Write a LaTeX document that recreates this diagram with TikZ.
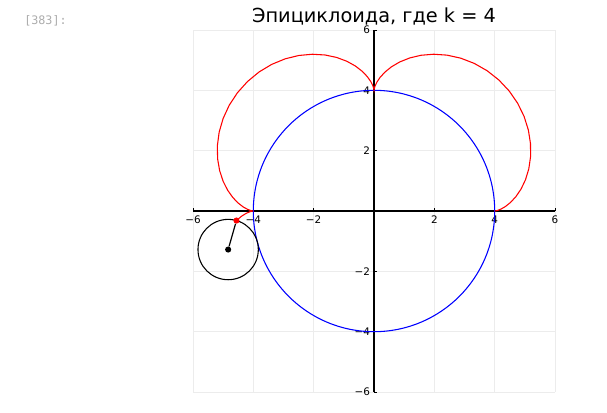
\documentclass[tikz,border=0pt]{standalone}
\usepackage{fontspec}
\setmainfont{DejaVu Sans}
\setmonofont{DejaVu Sans Mono}
\usetikzlibrary{positioning}

\begin{document}
\begin{tikzpicture}[
        x=0.75pt, y=0.75pt,
        grd/.style={draw=gray!15, line width=0.5pt},
        ax/.style={draw=black, line width=1pt},
        tck/.style={draw=black, line width=0.6pt},
        lbl/.style={font=\fontsize{7.8}{9}\selectfont, inner sep=1pt},
        dot/.style={circle, fill, inner sep=0pt, minimum size=4.6pt},
    ]
    \useasboundingbox (0,0) rectangle (607,412);
    \node[anchor=base west, text=gray!65, font=\ttfamily\fontsize{8.8}{10}\selectfont, inner sep=0pt] (cell) at (24,388) {[383]:};
    \node[anchor=base, font=\fontsize{14.5}{16}\selectfont, inner sep=0pt] (title) at (374,390) {Эпициклоида, где k = 4};
    \begin{scope}[shift={(374,201)}, x=22.63pt, y=22.63pt]
        % grid
        \foreach \v in {-6,-4,...,6} {
            \draw[grd] (\v,-6) -- (\v,6);
            \draw[grd] (-6,\v) -- (6,\v);
        }
        % axes
        \draw[ax] (-6,0) -- (6,0);
        \draw[ax] (0,-6) -- (0,6);
        \foreach \v in {-6,-4,-2,2,4,6} {
            \draw[tck] (\v,0) -- ++(0,0.11);
            \draw[tck] (0,\v) -- ++(0.11,0);
            \node[lbl, anchor=north] (xl\v) at (\v,-0.12) {\ifnum\v<0 −\the\numexpr-\v\relax\else\v\fi};
            \node[lbl, anchor=east] (yl\v) at (-0.08,\v) {\ifnum\v<0 −\the\numexpr-\v\relax\else\v\fi};
        }
        % curves
        \draw[blue, line width=0.8pt] (0,0) circle (4);
        \draw[red, line width=0.8pt] plot[domain=0:3.4, samples=69, variable=\t]
            ({5*cos(\t r)-cos(5*\t r)}, {5*sin(\t r)-sin(5*\t r)});
        \draw[black, line width=0.8pt] ({5*cos(3.4 r)}, {5*sin(3.4 r)}) circle (1);
        \node[dot, black] (ctr) at ({5*cos(3.4 r)}, {5*sin(3.4 r)}) {};
        \node[dot, red] (tip) at ({5*cos(3.4 r)-cos(17 r)}, {5*sin(3.4 r)-sin(17 r)}) {};
        \draw[black, line width=0.9pt] (ctr) -- (tip);
    \end{scope}
\end{tikzpicture}
\end{document}
